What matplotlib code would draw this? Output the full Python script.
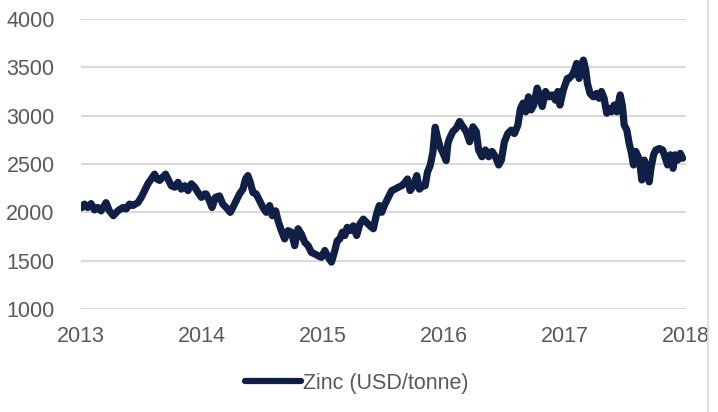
import matplotlib
matplotlib.use("Agg")
import matplotlib.pyplot as plt
from matplotlib.lines import Line2D

plt.rcParams["font.family"] = ["Liberation Sans", "DejaVu Sans"]

# zinc price, decimal year vs USD/tonne
years = [
    2013.008, 2013.028, 2013.055, 2013.083, 2013.111, 2013.138, 2013.166, 2013.207,
    2013.235, 2013.268, 2013.304, 2013.346, 2013.373, 2013.401, 2013.428, 2013.470,
    2013.498, 2013.525, 2013.553, 2013.580, 2013.608, 2013.628, 2013.650, 2013.672,
    2013.699, 2013.719, 2013.746, 2013.774, 2013.802, 2013.829, 2013.857, 2013.884,
    2013.912, 2013.940, 2013.967, 2013.995, 2014.023,
    2014.034, 2014.061, 2014.083, 2014.111, 2014.144, 2014.172, 2014.200, 2014.233,
    2014.255, 2014.282, 2014.310, 2014.338, 2014.360, 2014.379, 2014.399, 2014.421,
    2014.448, 2014.476, 2014.504, 2014.531, 2014.559, 2014.581, 2014.609, 2014.628,
    2014.656, 2014.683, 2014.711, 2014.739, 2014.766, 2014.794, 2014.821, 2014.849,
    2014.877, 2014.904, 2014.932, 2014.960, 2014.987, 2015.015,
    2015.043, 2015.070, 2015.098, 2015.117, 2015.139, 2015.161, 2015.181, 2015.200,
    2015.222, 2015.250, 2015.278, 2015.305, 2015.333, 2015.361, 2015.388, 2015.416,
    2015.443, 2015.465, 2015.485, 2015.512, 2015.540, 2015.568, 2015.595, 2015.623,
    2015.651, 2015.678, 2015.698, 2015.720, 2015.747, 2015.775, 2015.797, 2015.824,
    2015.844, 2015.863, 2015.886, 2015.908, 2015.927, 2015.946, 2015.968, 2015.990,
    2016.018, 2016.032,
    2016.046, 2016.073, 2016.101, 2016.129, 2016.156, 2016.184, 2016.212, 2016.239,
    2016.267, 2016.286, 2016.314, 2016.342, 2016.369, 2016.397, 2016.425, 2016.452,
    2016.474, 2016.499, 2016.527, 2016.555, 2016.582, 2016.610, 2016.632, 2016.654,
    2016.676, 2016.698, 2016.720, 2016.742, 2016.770, 2016.792, 2016.812, 2016.839,
    2016.867, 2016.895, 2016.922, 2016.941, 2016.958, 2016.986, 2017.019,
    2017.033, 2017.060, 2017.080, 2017.096, 2017.116, 2017.135, 2017.152, 2017.171,
    2017.185, 2017.207, 2017.234, 2017.262, 2017.281, 2017.301, 2017.323, 2017.345,
    2017.364, 2017.384, 2017.406, 2017.428, 2017.456, 2017.475, 2017.489, 2017.511,
    2017.530, 2017.550, 2017.566, 2017.585, 2017.605, 2017.622, 2017.635, 2017.655,
    2017.677, 2017.696, 2017.710, 2017.732, 2017.751, 2017.779, 2017.807, 2017.826,
    2017.848, 2017.870, 2017.893, 2017.909, 2017.931, 2017.953, 2017.972,
]
zinc = [
    2050, 2085, 2050, 2090, 2025, 2050, 2015, 2100,
    2015, 1965, 2015, 2050, 2035, 2085, 2070, 2100,
    2155, 2225, 2295, 2345, 2395, 2345, 2330, 2360,
    2395, 2345, 2275, 2260, 2310, 2240, 2275, 2225,
    2295, 2260, 2205, 2155, 2190,
    2190, 2120, 2050, 2155, 2170, 2085, 2050, 2000,
    2050, 2120, 2190, 2240, 2345, 2380, 2310, 2205,
    2190, 2120, 2050, 2000, 2070, 1965, 2015, 1915,
    1810, 1725, 1810, 1795, 1655, 1830, 1775, 1690,
    1655, 1585, 1570, 1550, 1535, 1605,
    1535, 1485, 1605, 1705, 1725, 1795, 1760, 1845,
    1810, 1860, 1760, 1880, 1930, 1895, 1860, 1830,
    1985, 2070, 2000, 2085, 2155, 2225, 2240, 2260,
    2275, 2310, 2345, 2225, 2275, 2380, 2240, 2275,
    2275, 2415, 2485, 2620, 2880, 2775, 2675, 2620,
    2535, 2710,
    2765, 2835, 2870, 2940, 2885, 2835, 2730, 2885,
    2835, 2645, 2575, 2645, 2575, 2630, 2575, 2490,
    2540, 2730, 2815, 2850, 2815, 2900, 3075, 3130,
    3040, 3195, 3060, 3110, 3285, 3195, 3095, 3250,
    3195, 3215, 3160, 3250, 3110, 3265, 3385,
    3385, 3420, 3475, 3540, 3385, 3525, 3575, 3475,
    3335, 3230, 3195, 3230, 3180, 3250, 3180, 3025,
    3075, 3040, 3110, 3040, 3215, 3095, 2905, 2850,
    2715, 2610, 2490, 2630, 2575, 2470, 2335, 2540,
    2455, 2315, 2455, 2595, 2645, 2660, 2645, 2575,
    2490, 2595, 2455, 2595, 2540, 2610, 2560,
]

x_ticks = [2013, 2014, 2015, 2016, 2017, 2018]
y_ticks = [1000, 1500, 2000, 2500, 3000, 3500, 4000]

line_color = "#0f1f45"
text_color = "#595959"
grid_color = "#d9d9d9"

fig = plt.figure(figsize=(7.18, 4.12), dpi=100)
ax = fig.add_axes([81 / 718, 1 - 309 / 412, 605 / 718, 290 / 412])

ax.plot(years, zinc, color=line_color, linewidth=5.2,
        solid_joinstyle="round", solid_capstyle="round")

ax.set_xlim(2013, 2018)
ax.set_ylim(1000, 4000)
ax.set_xticks(x_ticks)
ax.set_yticks(y_ticks)
ax.grid(axis="y", color=grid_color, linewidth=1.5)
ax.set_axisbelow(True)
for s in ax.spines.values():
    s.set_visible(False)
ax.tick_params(axis="both", length=0, labelsize=15.5, labelcolor=text_color)
ax.tick_params(axis="y", pad=19)
ax.tick_params(axis="x", pad=12)

# thin border on the right of the picture
fig.add_artist(Line2D([708 / 718, 708 / 718], [0, 1], color=grid_color, linewidth=1.2))

handle = Line2D([], [], color=line_color, linewidth=4.5, solid_capstyle="round")
fig.legend([handle], ["Zinc (USD/tonne)"], loc="center",
           bbox_to_anchor=(0.497, 1 - 383 / 412), frameon=False,
           fontsize=15.5, labelcolor=text_color, handlelength=2.6,
           handletextpad=0.1)

fig.savefig("out.png", dpi=100)
